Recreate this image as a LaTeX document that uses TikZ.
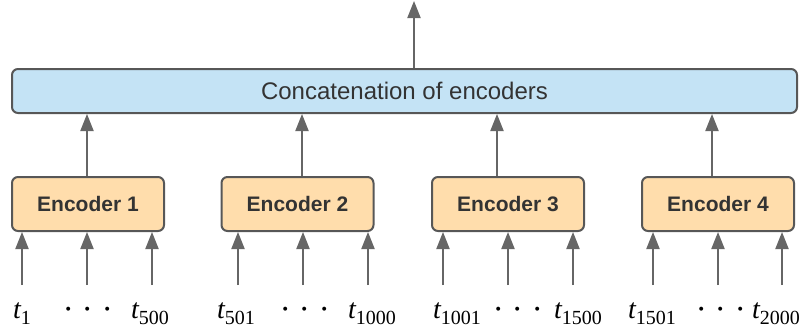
\documentclass[tikz,border=0pt]{standalone}
\usepackage{fontspec}
\setmainfont{Liberation Serif}
\setsansfont{Liberation Sans}
\usetikzlibrary{arrows.meta,calc}
\definecolor{catfill}{HTML}{C4E3F5}
\definecolor{encfill}{HTML}{FFDDAC}
\definecolor{edge}{HTML}{575757}
\definecolor{arrcol}{HTML}{666666}
\definecolor{txt}{HTML}{333333}
\newcommand\tlab[1]{{\itshape t}\raisebox{-6pt}{\fontsize{20}{20}\selectfont #1}}
\newcommand\onedot{\scalebox{1.5}{$\cdot$}}
\newcommand\dotsep{\onedot\hspace{9pt}\onedot\hspace{9pt}\onedot}
\tikzset{
  catbox/.style={draw=edge, line width=2pt, fill=catfill, rounded corners=6pt,
    minimum width=785pt, minimum height=44pt, inner sep=0pt,
    font=\sffamily\fontsize{24}{28}\selectfont, text=txt},
  encbox/.style={draw=edge, line width=2pt, fill=encfill, rounded corners=6pt,
    minimum width=152pt, minimum height=54pt, inner sep=0pt,
    font=\sffamily\bfseries\fontsize{21}{24}\selectfont, text=txt},
  arr/.style={draw=arrcol, line width=2pt, -{Triangle[length=17pt,width=13pt]}},
  lab/.style={anchor=base, inner sep=0pt, font=\fontsize{28}{30}\selectfont, text=black}
}
\begin{document}
\begin{tikzpicture}[x=1pt,y=-1pt]
\useasboundingbox (0,0) rectangle (809,327);
\node[catbox] (cat) at (404.5,91) {Concatenation of encoders};
\coordinate (out) at (414,1);
\draw[arr] (cat.north -| out) -- (out);

\node[encbox] (e1) at (88,204) {Encoder 1};
\node[encbox] (e2) at (297.5,204) {Encoder 2};
\node[encbox] (e3) at (508,204) {Encoder 3};
\node[encbox] (e4) at (718,204) {Encoder 4};

\coordinate (u1) at (87,0);
\coordinate (u2) at (302,0);
\coordinate (u3) at (497,0);
\coordinate (u4) at (712,0);
\foreach \i in {1,2,3,4}
  \draw[arr] (u\i |- e\i.north) -- (u\i |- cat.south);

\foreach \n/\x in {a1/22,a2/87,a3/152,b1/238,b2/303,b3/368,c1/443,c2/508,c3/573,d1/653,d2/718,d3/782}
  \coordinate (\n) at (\x,285);
\foreach \n/\e in {a1/e1,a2/e1,a3/e1,b1/e2,b2/e2,b3/e2,c1/e3,c2/e3,c3/e3,d1/e4,d2/e4,d3/e4}
  \draw[arr] (\n) -- (\n |- \e.south);

\node[lab] (l1) at (22,318) {\tlab{1}};
\node[lab] (l2) at (88,318) {\dotsep};
\node[lab] (l3) at (150,318) {\tlab{500}};
\node[lab] (l4) at (236,318) {\tlab{501}};
\node[lab] (l5) at (305,318) {\dotsep};
\node[lab] (l6) at (372,318) {\tlab{1000}};
\node[lab] (l7) at (457,318) {\tlab{1001}};
\node[lab] (l8) at (518,318) {\dotsep};
\node[lab] (l9) at (578,318) {\tlab{1500}};
\node[lab] (l10) at (652,318) {\tlab{1501}};
\node[lab] (l11) at (721,318) {\dotsep};
\node[lab] (l12) at (776,318) {\tlab{2000}};
\end{tikzpicture}
\end{document}
